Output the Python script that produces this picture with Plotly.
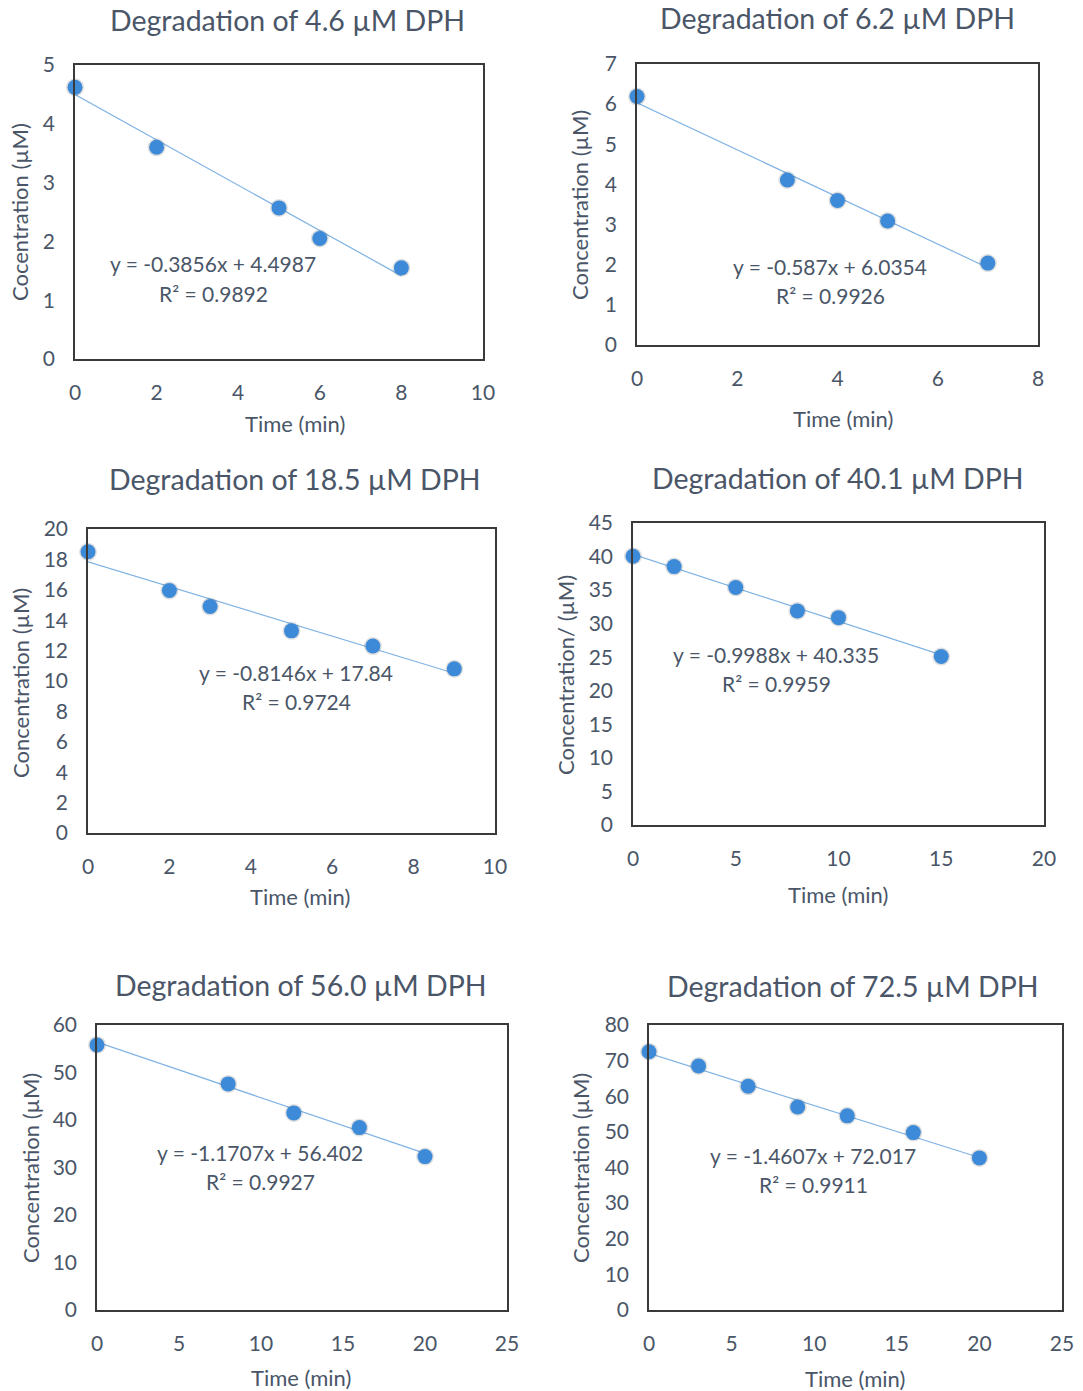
import plotly.graph_objects as go

# ---------------- data ----------------
titles = ["Degradation of 4.6 µM DPH", "Degradation of 6.2 µM DPH",
          "Degradation of 18.5 µM DPH", "Degradation of 40.1 µM DPH",
          "Degradation of 56.0 µM DPH", "Degradation of 72.5 µM DPH"]
ytitles = ["Cocentration (µM)", "Concentration (µM)", "Concentration (µM)",
           "Concentration/ (µM)", "Concentration (µM)", "Concentration (µM)"]
xtitle = "Time (min)"

time_1 = [0, 2, 5, 6, 8]
conc_1 = [4.62, 3.6, 2.57, 2.05, 1.55]
time_2 = [0, 3, 4, 5, 7]
conc_2 = [6.19, 4.11, 3.6, 3.09, 2.04]
time_3 = [0, 2, 3, 5, 7, 9]
conc_3 = [18.5, 15.95, 14.9, 13.3, 12.3, 10.8]
time_4 = [0, 2, 5, 8, 10, 15]
conc_4 = [40.05, 38.5, 35.4, 31.9, 30.9, 25.1]
time_5 = [0, 8, 12, 16, 20]
conc_5 = [55.8, 47.6, 41.5, 38.4, 32.3]
time_6 = [0, 3, 6, 9, 12, 16, 20]
conc_6 = [72.5, 68.5, 62.8, 57.0, 54.5, 49.8, 42.7]

slopes = [-0.3856, -0.587, -0.8146, -0.9988, -1.1707, -1.4607]
intercepts = [4.4987, 6.0354, 17.84, 40.335, 56.402, 72.017]
eq_text = ["y = -0.3856x + 4.4987", "y = -0.587x + 6.0354", "y = -0.8146x + 17.84",
           "y = -0.9988x + 40.335", "y = -1.1707x + 56.402", "y = -1.4607x + 72.017"]
r2_text = ["R² = 0.9892", "R² = 0.9926", "R² = 0.9724",
           "R² = 0.9959", "R² = 0.9927", "R² = 0.9911"]

x_max = [10, 8, 10, 20, 25, 25]
x_step = [2, 2, 2, 5, 5, 5]
y_max = [5, 7, 20, 45, 60, 80]
y_step = [1, 1, 2, 5, 10, 10]

times = [time_1, time_2, time_3, time_4, time_5, time_6]
concs = [conc_1, conc_2, conc_3, conc_4, conc_5, conc_6]

# ---------------- layout (pixels) ----------------
W, H = 1083, 1391
boxes = [(75, 65, 483, 359), (637, 64, 1038, 345), (88, 529, 495, 833),
         (633, 523, 1044, 825), (97, 1025, 507, 1310), (649, 1025, 1062, 1310)]
title_pos = [(287, 20), (837, 18), (295, 479), (838, 478), (301, 985), (853, 986)]
xt_pos = [(295, 423), (843, 418), (300, 896), (838, 894), (301, 1377), (855, 1378)]
yt_pos = [(20, 212), (580, 205), (20, 683), (566, 675), (30, 1168), (580, 1168)]
eq_pos = [(213, 264), (830, 266), (296, 672), (776, 654), (260, 1152), (813, 1155)]

TXT = "#4a5668"
FONT = "Lato"
MARK = "#3d8bd8"
LINE = "#80b3e4"

def px(x):
    return x / W

def py(y):
    return 1 - y / H

fig = go.Figure()
annotations = []
for i in range(6):
    n = i + 1
    xa = "x" if n == 1 else f"x{n}"
    ya = "y" if n == 1 else f"y{n}"
    t = times[i]
    c = concs[i]
    # trendline from the fitted equation
    xl = [0, t[-1]]
    yl = [intercepts[i] + slopes[i] * v for v in xl]
    fig.add_trace(go.Scatter(x=xl, y=yl, mode="lines", line=dict(color=LINE, width=1.2),
                             xaxis=xa, yaxis=ya, showlegend=False, hoverinfo="skip",
                             cliponaxis=False))
    # soft shadow
    fig.add_trace(go.Scatter(x=t, y=c, mode="markers",
                             marker=dict(size=18, color="rgba(40,40,40,0.15)", line=dict(width=0)),
                             xaxis=xa, yaxis=ya, showlegend=False, hoverinfo="skip",
                             cliponaxis=False))
    fig.add_trace(go.Scatter(x=t, y=c, mode="markers",
                             marker=dict(size=15, color=MARK, line=dict(width=0)),
                             xaxis=xa, yaxis=ya, showlegend=False, cliponaxis=False))
    l, tp, r, b = boxes[i]
    axcommon = dict(showline=True, linecolor="#3a3a3a", linewidth=1.5, mirror=True,
                    showgrid=False, zeroline=False, ticks="outside",
                    tickcolor="rgba(0,0,0,0)", automargin=False,
                    tickfont=dict(family=FONT, size=21, color=TXT))
    fig.layout[f"xaxis{'' if n == 1 else n}"] = dict(
        domain=[px(l), px(r)], anchor=ya, range=[0, x_max[i]], dtick=x_step[i],
        tick0=0, ticklen=14, **axcommon)
    fig.layout[f"yaxis{'' if n == 1 else n}"] = dict(
        domain=[py(b), py(tp)], anchor=xa, range=[0, y_max[i]], dtick=y_step[i],
        tick0=0, ticklen=14, **axcommon)
    annotations.append(dict(text=titles[i], x=px(title_pos[i][0]), y=py(title_pos[i][1]),
                            xref="paper", yref="paper", showarrow=False,
                            font=dict(family=FONT, size=28.5, color=TXT),
                            xanchor="center", yanchor="middle"))
    annotations.append(dict(text=xtitle, x=px(xt_pos[i][0]), y=py(xt_pos[i][1]),
                            xref="paper", yref="paper", showarrow=False,
                            font=dict(family=FONT, size=22, color=TXT),
                            xanchor="center", yanchor="middle"))
    annotations.append(dict(text=ytitles[i], x=px(yt_pos[i][0]), y=py(yt_pos[i][1]),
                            xref="paper", yref="paper", showarrow=False, textangle=-90,
                            font=dict(family=FONT, size=22, color=TXT),
                            xanchor="center", yanchor="middle"))
    ex, ey = eq_pos[i]
    annotations.append(dict(text=eq_text[i], x=px(ex), y=py(ey),
                            xref="paper", yref="paper", showarrow=False,
                            font=dict(family=FONT, size=21, color=TXT),
                            xanchor="center", yanchor="middle"))
    annotations.append(dict(text=r2_text[i], x=px(ex), y=py(ey + 29),
                            xref="paper", yref="paper", showarrow=False,
                            font=dict(family=FONT, size=21, color=TXT),
                            xanchor="center", yanchor="middle"))

fig.update_layout(width=W, height=H, margin=dict(l=0, r=0, t=0, b=0, autoexpand=False),
                  paper_bgcolor="white", plot_bgcolor="white",
                  annotations=annotations, showlegend=False)

fig.write_html("out.html", config={"displayModeBar": False},
               post_script="document.body.style.margin='0';document.body.style.overflow='hidden';")
